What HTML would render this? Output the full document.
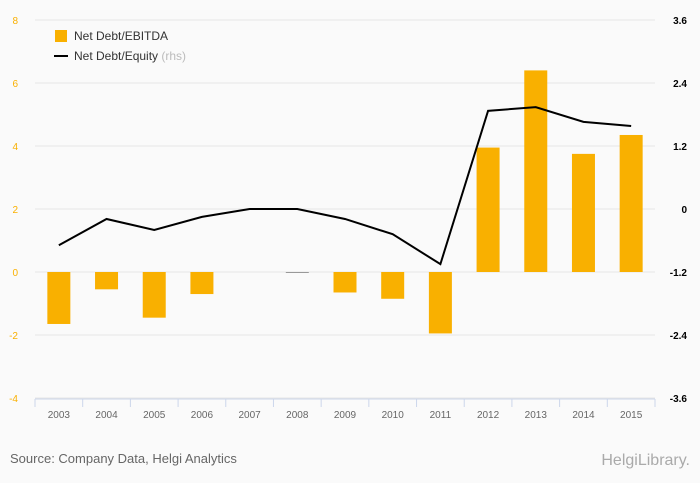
<!DOCTYPE html>
<html><head><meta charset="utf-8"><style>
body{margin:0;background:#fafafa;font-family:"Liberation Sans",sans-serif;}
svg{display:block}
</style></head><body>
<svg width="700" height="483" id="c">
<rect width="700" height="483" fill="#fafafa"/>
<g id="grid"></g><g id="bars"></g><g id="line"></g><g id="axes"></g>
<g>
<rect x="55" y="30" width="12" height="12" fill="#f9b000"/>
<text x="74" y="40" font-size="12" fill="#333">Net Debt/EBITDA</text>
<line x1="54" y1="56" x2="68" y2="56" stroke="#000" stroke-width="2"/>
<text x="74" y="60" font-size="12" fill="#333">Net Debt/Equity <tspan fill="#bbb">(rhs)</tspan></text>
</g>
<text x="10" y="463" font-size="13" fill="#666">Source: Company Data, Helgi Analytics</text>
<text x="690" y="465" font-size="16" fill="#aaa" text-anchor="end">HelgiLibrary.</text>
</svg>
<script>
const categories=["2003","2004","2005","2006","2007","2008","2009","2010","2011","2012","2013","2014","2015"];
const ebitda=[-1.65,-0.55,-1.45,-0.7,0,-0.02,-0.65,-0.85,-1.95,3.95,6.4,3.75,4.35];
const equity=[-0.69,-0.19,-0.4,-0.15,0,0,-0.19,-0.48,-1.05,1.87,1.94,1.66,1.58];
const leftTicks=[8,6,4,2,0,-2,-4];
const rightTicks=["3.6","2.4","1.2","0","-1.2","-2.4","-3.6"];
const X0=35,X1=655,YT=20,YB=398;
const yL=v=>YT+(8-v)/12*(YB-YT);
const yR=v=>YT+(3.6-v)/7.2*(YB-YT);
const bw=(X1-X0)/categories.length;
const xc=i=>X0+bw*(i+0.5);
const NS="http://www.w3.org/2000/svg";
function mk(t,a,p){const e=document.createElementNS(NS,t);for(const k in a)e.setAttribute(k,a[k]);document.getElementById(p).appendChild(e);return e;}
leftTicks.forEach((v,i)=>{
 const y=yL(v);
 const g=mk("line",{x1:X0,x2:X1,y1:y,y2:y,stroke:"#e6e6e6","stroke-width":1},"grid");
 
 
 const t=mk("text",{x:18,y:y+4,"font-size":10,fill:"#f9b000","text-anchor":"end"},"axes");t.textContent=v;
 
 
 const r=mk("text",{x:687,y:y+4,"font-size":10,fill:"#000","text-anchor":"end","font-weight":"bold"},"axes");r.textContent=rightTicks[i];
 
 
});
const ax=mk("line",{x1:X0,x2:X1,y1:YB+1,y2:YB+1,stroke:"#ccd6eb"},"axes");


for(let i=0;i<=categories.length;i++){
 const x=X0+bw*i;
 const tk=mk("line",{x1:x,x2:x,y1:YB+1,y2:YB+9,stroke:"#ccd6eb"},"axes");
 
 
}
categories.forEach((c,i)=>{
 const t=mk("text",{x:xc(i),y:418,"font-size":10,fill:"#666","text-anchor":"middle"},"axes");t.textContent=c;
 
 
 const v=ebitda[i];const y0=yL(0),y1=yL(v);
 const b=mk("rect",{x:xc(i)-11.5,width:23,y:Math.min(y0,y1),height:Math.max(Math.abs(y1-y0),v!==0?1:0),fill:Math.abs(v)<0.05?"#999":"#f9b000"},"bars");
 
 
});
const pl=mk("polyline",{points:equity.map((v,i)=>xc(i)+","+yR(v)).join(" "),fill:"none",stroke:"#000","stroke-width":2},"line");


</script>
</body></html>
